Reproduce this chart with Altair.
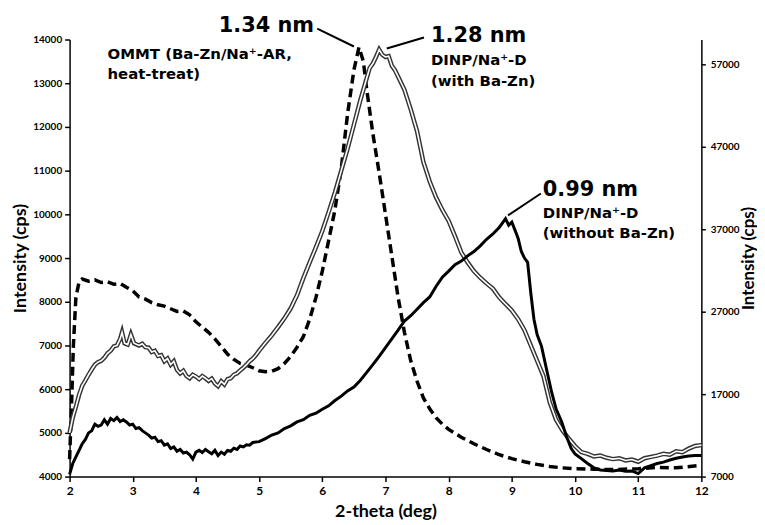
import altair as alt
import pandas as pd

# ---- data ----
ommt_x = [2.0, 2.03, 2.06, 2.1, 2.15, 2.2, 2.3, 2.4, 2.5, 2.6, 2.7, 2.8, 2.9, 3.0, 3.1, 3.2, 3.3, 3.4, 3.5, 3.6,
          3.7, 3.8, 3.9, 4.0, 4.1, 4.2, 4.3, 4.4, 4.5, 4.6, 4.7, 4.8, 4.9, 5.0, 5.1, 5.2, 5.3, 5.4, 5.5, 5.6,
          5.7, 5.8, 5.9, 6.0, 6.1, 6.2, 6.3, 6.4, 6.5, 6.58, 6.65, 6.7, 6.8, 6.9, 7.0, 7.1, 7.2, 7.3, 7.4, 7.5,
          7.6, 7.7, 7.8, 7.9, 8.0, 8.2, 8.4, 8.6, 8.8, 9.0, 9.2, 9.4, 9.6, 9.8, 10.0, 10.3, 10.6, 11.0, 11.3, 11.6, 12.0]
ommt_y = [4400, 5600, 7000, 8100, 8450, 8520, 8470, 8500, 8440, 8460, 8400, 8420, 8330, 8250, 8110, 8060, 7980, 7930, 7900, 7840,
          7780, 7790, 7700, 7540, 7420, 7300, 7150, 6980, 6800, 6680, 6590, 6550, 6490, 6420, 6400, 6410, 6470, 6590, 6750, 6960,
          7200, 7600, 8100, 8700, 9400, 10100, 11050, 12300, 13300, 13820, 13500, 12890, 11850, 10950, 10000, 9050, 8100, 7300, 6650, 6180,
          5800, 5550, 5350, 5200, 5080, 4900, 4750, 4620, 4500, 4410, 4340, 4280, 4230, 4200, 4180, 4170, 4160, 4180, 4210, 4200, 4260]

with_x = [2.0, 2.05, 2.1, 2.15, 2.2, 2.25, 2.3, 2.35, 2.4, 2.45, 2.5, 2.55, 2.6, 2.65, 2.7, 2.75, 2.8, 2.83, 2.87, 2.92,
          2.97, 3.02, 3.1, 3.15, 3.2, 3.25, 3.3, 3.35, 3.4, 3.45, 3.5, 3.55, 3.6, 3.65, 3.7, 3.75, 3.8, 3.85, 3.9, 3.95,
          4.0, 4.05, 4.1, 4.15, 4.2, 4.25, 4.3, 4.35, 4.4, 4.45, 4.5, 4.55, 4.6, 4.65, 4.7, 4.75, 4.8, 4.85, 4.9, 4.95,
          5.0, 5.1, 5.2, 5.3, 5.4, 5.5, 5.6, 5.7, 5.8, 5.9, 6.0, 6.1, 6.2, 6.3, 6.4, 6.5, 6.6, 6.7, 6.75, 6.8,
          6.85, 6.9, 6.95, 7.0, 7.05, 7.1, 7.15, 7.22, 7.3, 7.4, 7.5, 7.6, 7.7, 7.8, 7.9, 8.0, 8.1, 8.2, 8.3, 8.4,
          8.5, 8.6, 8.7, 8.8, 8.9, 9.0, 9.1, 9.2, 9.3, 9.4, 9.5, 9.6, 9.7, 9.8, 9.9, 10.0, 10.1, 10.2, 10.3, 10.4,
          10.5, 10.6, 10.7, 10.8, 10.9, 11.0, 11.1, 11.2, 11.3, 11.4, 11.5, 11.6, 11.7, 11.8, 11.9, 12.0]
with_y = [5000, 5350, 5600, 5870, 6080, 6200, 6330, 6450, 6560, 6620, 6650, 6720, 6820, 6880, 6980, 7000, 7150, 7300, 7050, 7020,
          7250, 7050, 7000, 7040, 6960, 6950, 6850, 6880, 6760, 6780, 6640, 6700, 6560, 6640, 6440, 6360, 6420, 6300, 6250, 6330,
          6290, 6230, 6300, 6250, 6190, 6240, 6130, 6070, 6180, 6110, 6230, 6250, 6330, 6360, 6430, 6490, 6560, 6640, 6700, 6780,
          6880, 7060, 7230, 7420, 7620, 7850, 8150, 8540, 8900, 9250, 9620, 10050, 10500, 11000, 11500, 12050, 12600, 13100, 13350, 13450,
          13600, 13770, 13650, 13600, 13620, 13400, 13300, 13090, 12850, 12400, 11900, 11200, 10750, 10390, 10100, 9850, 9500, 9130, 8900, 8700,
          8550, 8420, 8300, 8100, 7950, 7800, 7600, 7350, 7000, 6650, 6300, 5700, 5300, 5060, 4870, 4700, 4560, 4520, 4460, 4480,
          4430, 4400, 4420, 4370, 4390, 4340, 4420, 4450, 4480, 4520, 4500, 4580, 4560, 4640, 4700, 4720]

without_x = [2.0, 2.05, 2.1, 2.15, 2.2, 2.25, 2.3, 2.35, 2.4, 2.45, 2.5, 2.55, 2.6, 2.65, 2.7, 2.75, 2.8, 2.85, 2.9, 2.95,
             3.0, 3.05, 3.1, 3.15, 3.2, 3.25, 3.3, 3.35, 3.4, 3.45, 3.5, 3.55, 3.6, 3.65, 3.7, 3.75, 3.8, 3.85, 3.9, 3.95,
             4.0, 4.05, 4.1, 4.15, 4.2, 4.25, 4.3, 4.35, 4.4, 4.45, 4.5, 4.55, 4.6, 4.65, 4.7, 4.75, 4.8, 4.85, 4.9, 5.0,
             5.1, 5.2, 5.3, 5.4, 5.5, 5.6, 5.7, 5.8, 5.9, 6.0, 6.1, 6.2, 6.3, 6.4, 6.5, 6.6, 6.7, 6.8, 6.9, 7.0,
             7.1, 7.2, 7.3, 7.4, 7.5, 7.6, 7.7, 7.8, 7.9, 8.0, 8.1, 8.2, 8.3, 8.4, 8.5, 8.6, 8.7, 8.8, 8.85, 8.9,
             8.95, 9.0, 9.05, 9.1, 9.15, 9.2, 9.25, 9.3, 9.35, 9.4, 9.47, 9.55, 9.63, 9.7, 9.79, 9.87, 9.94, 10.0, 10.1, 10.2,
             10.3, 10.4, 10.5, 10.6, 10.7, 10.8, 10.9, 11.0, 11.1, 11.2, 11.3, 11.4, 11.5, 11.6, 11.7, 11.8, 11.9, 12.0]
without_y = [4050, 4300, 4450, 4600, 4750, 4850, 5000, 5050, 5200, 5150, 5180, 5300, 5200, 5330, 5280, 5350, 5260, 5300, 5250, 5180,
             5200, 5100, 5120, 5050, 5000, 4950, 4880, 4900, 4800, 4820, 4720, 4750, 4640, 4680, 4580, 4620, 4540, 4560, 4500, 4400,
             4560, 4600, 4550, 4620, 4570, 4520, 4600, 4480, 4560, 4510, 4600, 4580, 4650, 4620, 4700, 4680, 4730, 4720, 4780, 4800,
             4870, 4950, 5000, 5100, 5160, 5250, 5300, 5400, 5450, 5540, 5620, 5740, 5840, 5960, 6050, 6200, 6380, 6560, 6750, 6950,
             7150, 7350, 7560, 7680, 7830, 7980, 8110, 8350, 8560, 8700, 8850, 8930, 9050, 9150, 9280, 9430, 9550, 9700, 9800, 9900,
             9750, 9820, 9640, 9450, 9150, 9000, 8900, 8200, 7600, 7250, 6980, 6450, 5930, 5550, 5250, 4900, 4640, 4520, 4410, 4300,
             4200, 4150, 4140, 4130, 4150, 4120, 4130, 4070, 4200, 4250, 4300, 4330, 4380, 4420, 4450, 4470, 4480, 4480]

# annotation texts and anchor positions (data units)
ann_text = ["OMMT (Ba-Zn/Na\u207a-AR,", "heat-treat)", "DINP/Na\u207a-D", "(with Ba-Zn)",
            "DINP/Na\u207a-D", "(without Ba-Zn)"]
ann_x = [2.60, 2.60, 7.72, 7.72, 9.49, 9.49]
ann_y = [13557, 13102, 13425, 12932, 9925, 9448]

big_text = ["1.34 nm", "1.28 nm", "0.99 nm"]
big_x = [5.87, 7.72, 9.49]
big_y = [14182, 13932, 10409]
big_align = ["right", "left", "left"]

lead_x = [5.92, 7.02, 8.94]
lead_y = [14250, 13795, 9977]
lead_x2 = [6.50, 7.61, 9.46]
lead_y2 = [13840, 14045, 10477]

right_ticks = [7000, 17000, 27000, 37000, 47000, 57000]
left_ticks = list(range(4000, 14001, 1000))
x_ticks = list(range(2, 13))

# ---- charts ----
xs = alt.Scale(domain=[2, 12], nice=False, zero=False)
ys = alt.Scale(domain=[4000, 14000], nice=False, zero=False)

df_ommt = pd.DataFrame({"x": ommt_x, "y": ommt_y})
df_with = pd.DataFrame({"x": with_x, "y": with_y})
df_without = pd.DataFrame({"x": without_x, "y": without_y})

xenc = alt.X("x:Q", scale=xs, axis=alt.Axis(values=x_ticks, format="d", title="2-theta (deg)", labelFontSize=12,
                                             labelFont="Lato", labelFontWeight="bold", titleFont="Lato",
                                             titleFontSize=18, titleFontWeight="bold", tickSize=5,
                                             labelPadding=4, titlePadding=6, labelFlush=False))
yenc = alt.Y("y:Q", scale=ys, axis=alt.Axis(values=left_ticks, format="d", title="Intensity (cps)", labelFontSize=10,
                                             labelFont="Lato", labelFontWeight="bold", titleFont="Lato",
                                             titleFontSize=18, titleFontWeight="bold", tickSize=5,
                                             labelPadding=3, titlePadding=3))
xq = alt.X("x:Q", scale=xs)
yq = alt.Y("y:Q", scale=ys)

dashed = alt.Chart(df_ommt).mark_line(color="black", strokeWidth=3.5, strokeDash=[9, 5]).encode(x=xenc, y=yenc)
dbl_outer = alt.Chart(df_with).mark_line(color="#333333", strokeWidth=4.5).encode(x=xq, y=yq)
dbl_inner = alt.Chart(df_with).mark_line(color="white", strokeWidth=1.6).encode(x=xq, y=yq)
solid = alt.Chart(df_without).mark_line(color="black", strokeWidth=3).encode(x=xq, y=yq)

df_ann = pd.DataFrame({"x": ann_x, "y": ann_y, "t": ann_text})
ann = alt.Chart(df_ann).mark_text(align="left", baseline="alphabetic", font="DejaVu Sans",
                                  fontWeight="bold", fontSize=15, color="black").encode(x=xq, y=yq, text="t:N")

df_big = pd.DataFrame({"x": big_x, "y": big_y, "t": big_text, "a": big_align})
big_l = alt.Chart(df_big[df_big.a == "left"]).mark_text(align="left", baseline="alphabetic", font="DejaVu Sans",
                                                       fontWeight="bold", fontSize=21, color="black").encode(x=xq, y=yq, text="t:N")
big_r = alt.Chart(df_big[df_big.a == "right"]).mark_text(align="right", baseline="alphabetic", font="DejaVu Sans",
                                                        fontWeight="bold", fontSize=21, color="black").encode(x=xq, y=yq, text="t:N")

df_lead = pd.DataFrame({"x": lead_x, "y": lead_y, "x2": lead_x2, "y2": lead_y2})
leads = alt.Chart(df_lead).mark_rule(color="black", strokeWidth=2).encode(x=xq, y=yq, x2="x2:Q", y2="y2:Q")

left_group = alt.layer(dashed, dbl_outer, dbl_inner, solid, leads, ann, big_l, big_r)

df_right = pd.DataFrame({"x": [2, 2], "yr": [7000, 60000]})
right = alt.Chart(df_right).mark_point(opacity=0).encode(
    x=xq,
    y=alt.Y("yr:Q", scale=alt.Scale(domain=[7000, 60000], nice=False, zero=False),
            axis=alt.Axis(orient="right", values=right_ticks, format="d", title="Intensity (cps)", labelFontSize=10,
                          labelFont="Lato", labelFontWeight="bold", titleFont="Lato", titleFontSize=17,
                          titleFontWeight="bold", tickSize=4, labelPadding=5, titlePadding=1,
                          titleAngle=270, titleBaseline="top")))

chart = alt.layer(left_group, right).resolve_scale(y="independent").properties(
    width=636, height=440,
    autosize=alt.AutoSizeParams(type="none"),
    padding={"left": 62, "top": 30, "right": 56, "bottom": 44},
).configure_view(stroke=None).configure_axis(
    grid=False, domainColor="black", tickColor="black", domainWidth=1.5, tickWidth=1.5,
    labelColor="black", titleColor="black")

chart.save("out.html", embed_options={"renderer": "svg", "actions": False})
